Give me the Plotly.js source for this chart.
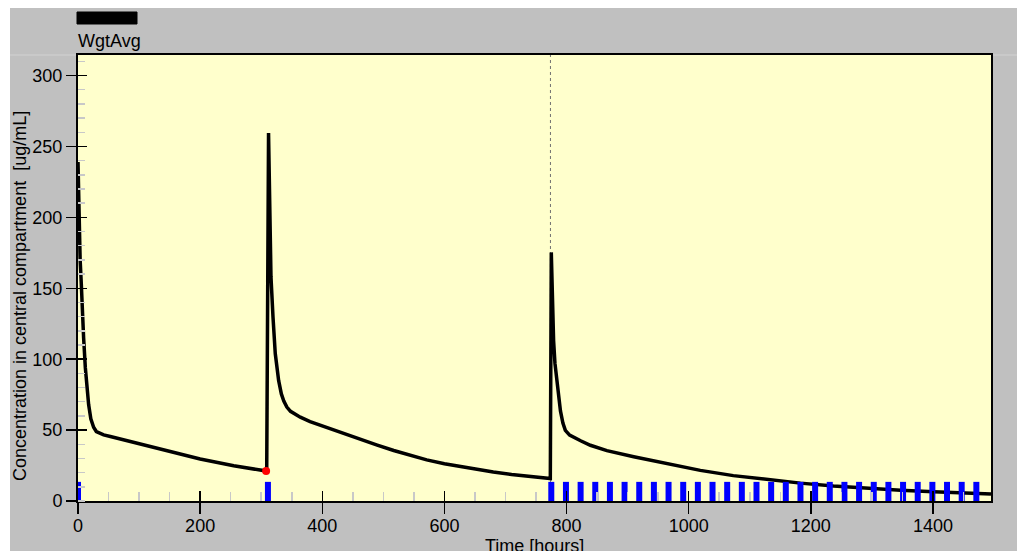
<!DOCTYPE html>
<html>
<head>
<meta charset="utf-8">
<script src="https://cdn.plot.ly/plotly-3.0.1.min.js"></script>
<style>html,body{margin:0;padding:0;background:#fff;}#chart{width:1017px;height:551px;}</style>
</head>
<body>
<div id="chart"></div>
<script>
// ---- data ----
const timeHours = [
  0, 1, 2, 3.5, 5.4, 7, 9.2, 12, 14.5, 17.4, 21, 25.6, 30, 36, 42, 53, 70, 100, 118, 160, 200, 255, 304, 309,
  312, 314, 316, 319.3, 323, 328.5, 333, 337, 342, 348, 356, 364, 380, 402, 430, 462, 490, 517, 545, 571, 600,
  626, 655, 680, 710, 735, 760, 773.4,
  775, 777, 778.8, 781, 784, 787, 790, 794, 798, 805, 811, 823, 839, 866, 910, 964, 1019, 1073, 1128, 1183,
  1237, 1292, 1347, 1401, 1456, 1495];
const concentration = [
  239, 215, 193, 170, 153, 133, 115, 94, 80, 68, 58, 52, 49, 47.5, 46.6, 45.5, 43.7, 40.3, 38.6, 33.8, 29.6, 24.8, 21.4, 21.1,
  259.5, 205, 158, 129.6, 104, 85, 75.5, 70.5, 66.2, 63.2, 61, 59.1, 56, 52.6, 48.8, 43.6, 39.4, 35.6, 32, 29, 26.3,
  24.2, 22, 20.4, 18.7, 17.4, 16.3, 15.8,
  175.3, 140, 113, 97, 84.7, 73, 63.5, 55, 49.8, 46.5, 45, 42.5, 39.3, 35.5, 31.2, 26.3, 21.6, 17.9, 15, 12.6,
  10.6, 8.9, 7.6, 6.6, 5.6, 5.0];
const doseTimes = [0, 311, 775, 799, 823, 847, 871, 895, 919, 943, 967, 991, 1015, 1039, 1063,
  1087, 1111, 1135, 1159, 1183, 1207, 1231, 1255, 1279, 1303, 1327, 1351, 1375, 1399, 1423, 1447, 1471];
const doseMarkHeight = 13.5;
const markerTime = [308];
const markerConc = [21.2];
const cursorTime = 773.6;
const seriesName = "WgtAvg";
const xTitle = "Time [hours]";
const yTitle = "Concentration in central compartment\u00a0\u00a0[ug/mL]";
const xRange = [0, 1495];
const yRange = [0, 314.5];

// dose indicator segments
const doseX = [], doseY = [];
doseTimes.forEach(t => { doseX.push(t, t, null); doseY.push(0, doseMarkHeight, null); });

const W = 1017, H = 551, M = {l:78, r:26, t:55, b:50};
const pw = W - M.l - M.r, ph = H - M.t - M.b;
const px2x = p => (p - M.l) / pw;
const px2y = p => (H - M.b - p) / ph;

const traces = [
  {x: timeHours, y: concentration, type: 'scatter', mode: 'lines', name: seriesName,
   line: {color: '#000', width: 3.5}, hoverinfo: 'x+y', xaxis: 'x', yaxis: 'y'},
  {x: doseX, y: doseY, type: 'scatter', mode: 'lines', name: 'dose',
   line: {color: '#0000ff', width: 6}, hoverinfo: 'skip', xaxis: 'x2', yaxis: 'y2'},
  {x: markerTime, y: markerConc, type: 'scatter', mode: 'markers', name: 'marker',
   marker: {color: '#ff0000', size: 8}, xaxis: 'x2', yaxis: 'y2'}
];

const FF = 'Liberation Sans, Arial, sans-serif';
const tickFont = {family: FF, size: 18, color: '#000'};
const layout = {
  width: W, height: H, margin: M,
  paper_bgcolor: '#ffffff', plot_bgcolor: 'rgba(0,0,0,0)',
  showlegend: false,
  font: {family: FF, size: 18, color: '#000'},
  xaxis: {range: xRange, showline: true, linewidth: 2, linecolor: '#000', mirror: true,
    ticks: 'inside', ticklen: 10, tickwidth: 1.5, tickcolor: '#000', tick0: 0, dtick: 200,
    ticklabelstandoff: 7,
    showgrid: false, zeroline: false, tickfont: tickFont,
    minor: {tick0: 0, dtick: 50, ticks: 'inside', ticklen: 9, tickwidth: 1.5, tickcolor: '#c8c8c8', showgrid: false}},
  yaxis: {range: yRange, showline: true, linewidth: 2, linecolor: '#000', mirror: true,
    ticks: 'outside', ticklen: 10, tickwidth: 1.5, tickcolor: '#000', tick0: 0, dtick: 50,
    showgrid: false, zeroline: false, tickfont: tickFont,
    minor: {tick0: 0, dtick: 10, ticks: 'inside', ticklen: 7, tickwidth: 1.5, tickcolor: '#c8c8c8', showgrid: false}},
  xaxis2: {range: xRange, overlaying: 'x', anchor: 'y2', side: 'bottom', showline: false,
    ticks: 'outside', ticklen: 12, tickwidth: 1.5, tickcolor: '#000', tick0: 0, dtick: 200,
    showticklabels: false, showgrid: false, zeroline: false},
  yaxis2: {range: yRange, overlaying: 'y', anchor: 'x2', side: 'left', showline: false,
    ticks: 'inside', ticklen: 9, tickwidth: 1.5, tickcolor: '#000', tick0: 0, dtick: 50,
    showticklabels: false, showgrid: false, zeroline: false},
  shapes: [
    {type: 'rect', xref: 'paper', yref: 'paper', layer: 'below',
     x0: px2x(10), x1: px2x(1017), y0: px2y(551), y1: px2y(8),
     fillcolor: '#c0c0c0', line: {width: 0}},
    {type: 'line', xref: 'paper', yref: 'paper', layer: 'below',
     x0: px2x(10), x1: px2x(1017), y0: 1, y1: 1, line: {color: '#d2d2d2', width: 1}},
    {type: 'rect', xref: 'paper', yref: 'paper', layer: 'below',
     x0: 0, x1: 1, y0: 0, y1: 1, fillcolor: '#ffffcc', line: {width: 0}},
    {type: 'line', xref: 'x', yref: 'y domain', layer: 'below',
     x0: cursorTime, x1: cursorTime, y0: 0, y1: 1, line: {color: '#707070', width: 1, dash: 'dot'}},
    {type: 'rect', xref: 'paper', yref: 'paper',
     x0: px2x(77), x1: px2x(137), y0: px2y(24), y1: px2y(12),
     fillcolor: '#000', line: {color: '#000', width: 1}}
  ],
  annotations: [
    {text: seriesName, xref: 'paper', yref: 'paper', x: px2x(76), y: px2y(41),
     xanchor: 'left', yanchor: 'middle', showarrow: false, font: {size: 18, color: '#000'}},
    {text: yTitle, xref: 'paper', yref: 'paper', x: px2x(20), y: px2y(296),
     xanchor: 'center', yanchor: 'middle', textangle: -90, showarrow: false, font: {size: 18, color: '#000'}},
    {text: xTitle, xref: 'paper', yref: 'paper', x: 0.5, y: px2y(546),
     xanchor: 'center', yanchor: 'middle', showarrow: false, font: {size: 18, color: '#000'}}
  ]
};

Plotly.newPlot('chart', traces, layout, {displayModeBar: false, staticPlot: true});
</script>
</body>
</html>
